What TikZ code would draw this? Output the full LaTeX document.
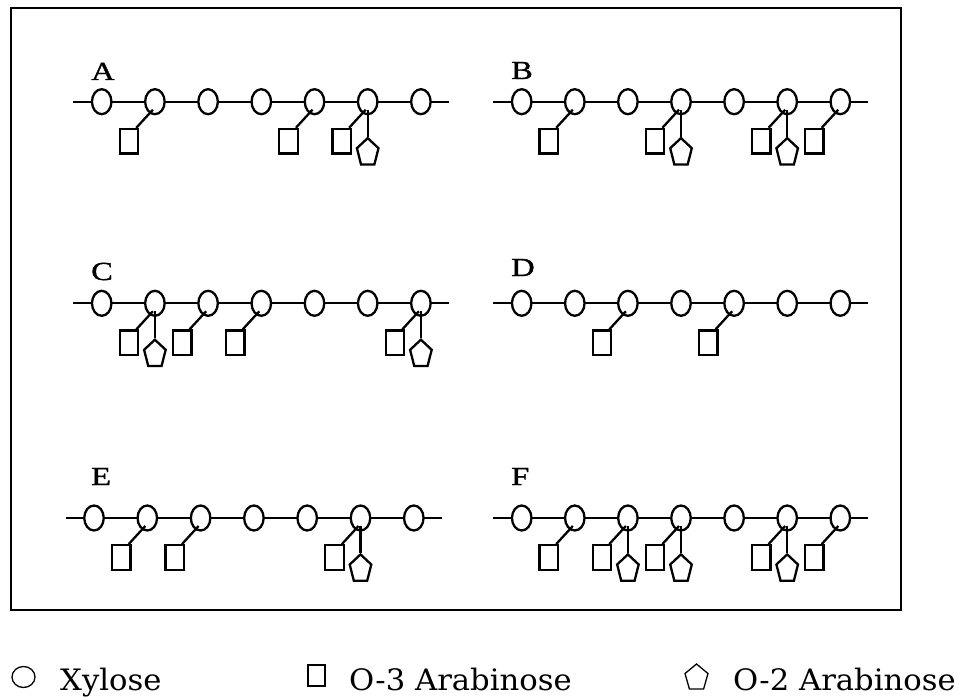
\documentclass[tikz,border=0pt]{standalone}
\usepackage{fontspec}
\setmainfont{Liberation Serif}
\newfontfamily\panelfont[FakeStretch=1.25, FakeBold=1.2]{Liberation Serif}
\newfontfamily\legendfont[FakeStretch=1.04]{DejaVu Serif}
\usetikzlibrary{shapes.geometric,calc}

\tikzset{
  xyl/.style={ellipse, draw, fill=white, line width=2.3pt,
    minimum width=19.5pt, minimum height=25pt, inner sep=0pt},
  araiii/.style={rectangle, draw, fill=white, line width=2.3pt,
    minimum width=18.5pt, minimum height=24.5pt, inner sep=0pt},
  araii/.style={regular polygon, regular polygon sides=5, draw, fill=white,
    line width=2.3pt, minimum size=27pt, inner sep=0pt},
  bond/.style={line width=2.3pt},
  panel/.style={font=\panelfont\fontsize{26}{30}\selectfont, anchor=base west, inner sep=0pt},
  legtext/.style={font=\legendfont\fontsize{29.5}{34}\selectfont, anchor=base west, inner sep=0pt},
  legsym/.style={draw, line width=1.3pt, inner sep=0pt},
}

% backbone of seven xylose units: #1 name, #2 first x, #3 y, #4 spacing
\newcommand\xylchain[4]{%
  \coordinate (#1-w) at (#2-28.5,#3);
  \coordinate (#1-e) at ({#2+6*#4+28},#3);
  \draw[bond] (#1-w) -- (#1-e);
  \foreach \k in {1,...,7}
    \node[xyl] (#1-\k) at ({#2+(\k-1)*#4},#3) {};
}
% O-3 arabinose on unit #2 of chain #1
\newcommand\oiii[2]{%
  \node[araiii] (#1-s#2) at ($(#1-#2)+(-26,39.5)$) {};
  \draw[bond] ($(#1-#2)+(-2,8)$) -- ($(#1-s#2.north east)+(-3,0)$);
}
% O-2 arabinose on unit #2 of chain #1
\newcommand\oii[2]{%
  \begin{scope}[shift={($(#1-#2)+(0,51)$)}, xscale=0.84, yscale=1.08, transform shape]
    \node[araii] (#1-p#2) at (0,0) {};
  \end{scope}
  \draw[bond] ($(#1-#2)+(0,8)$) -- (#1-p#2.corner 1);
}

\begin{document}
\begin{tikzpicture}[x=1pt, y=-1pt]
  \useasboundingbox (0,0) rectangle (959,698);
  \draw[line width=2.3pt] (11,8) rectangle (901,610);

  % A
  \node[panel] (labA) at (91,80) {A};
  \xylchain{A}{101.7}{101.7}{53.2}
  \oiii{A}{2}\oiii{A}{5}\oiii{A}{6}\oii{A}{6}

  % B
  \node[panel] (labB) at (511,79) {B};
  \xylchain{B}{521.7}{101.7}{53.1}
  \oiii{B}{2}\oiii{B}{4}\oiii{B}{6}\oiii{B}{7}
  \oii{B}{4}\oii{B}{6}

  % C
  \node[panel] (labC) at (91,280) {C};
  \xylchain{C}{101.7}{303.3}{53.2}
  \oiii{C}{2}\oiii{C}{3}\oiii{C}{4}\oiii{C}{7}
  \oii{C}{2}\oii{C}{7}

  % D
  \node[panel] (labD) at (511,276) {D};
  \xylchain{D}{521.7}{303.3}{53.1}
  \oiii{D}{3}\oiii{D}{5}

  % E
  \node[panel] (labE) at (91,485) {E};
  \xylchain{E}{94}{518}{53.3}
  \oiii{E}{2}\oiii{E}{3}\oiii{E}{6}
  \oii{E}{6}

  % F
  \node[panel] (labF) at (511,485) {F};
  \xylchain{F}{521.7}{518}{53.1}
  \oiii{F}{2}\oiii{F}{3}\oiii{F}{4}\oiii{F}{6}\oiii{F}{7}
  \oii{F}{3}\oii{F}{4}\oii{F}{6}

  % key
  \node[legsym, ellipse, minimum width=23pt, minimum height=21pt] (kx) at (23.5,677) {};
  \node[legtext] (kxt) at (60,690.5) {Xylose};
  \node[legsym, rectangle, minimum width=17pt, minimum height=21pt] (ks) at (316.5,675.5) {};
  \node[legtext] (kst) at (349,690.5) {O-3 Arabinose};
  \begin{scope}[shift={(696.5,677.8)}, yscale=1.14, transform shape]
    \node[legsym, regular polygon, regular polygon sides=5, minimum size=24.2pt] (kp) at (0,0) {};
  \end{scope}
  \node[legtext] (kpt) at (733,690.5) {O-2 Arabinose};
\end{tikzpicture}
\end{document}
